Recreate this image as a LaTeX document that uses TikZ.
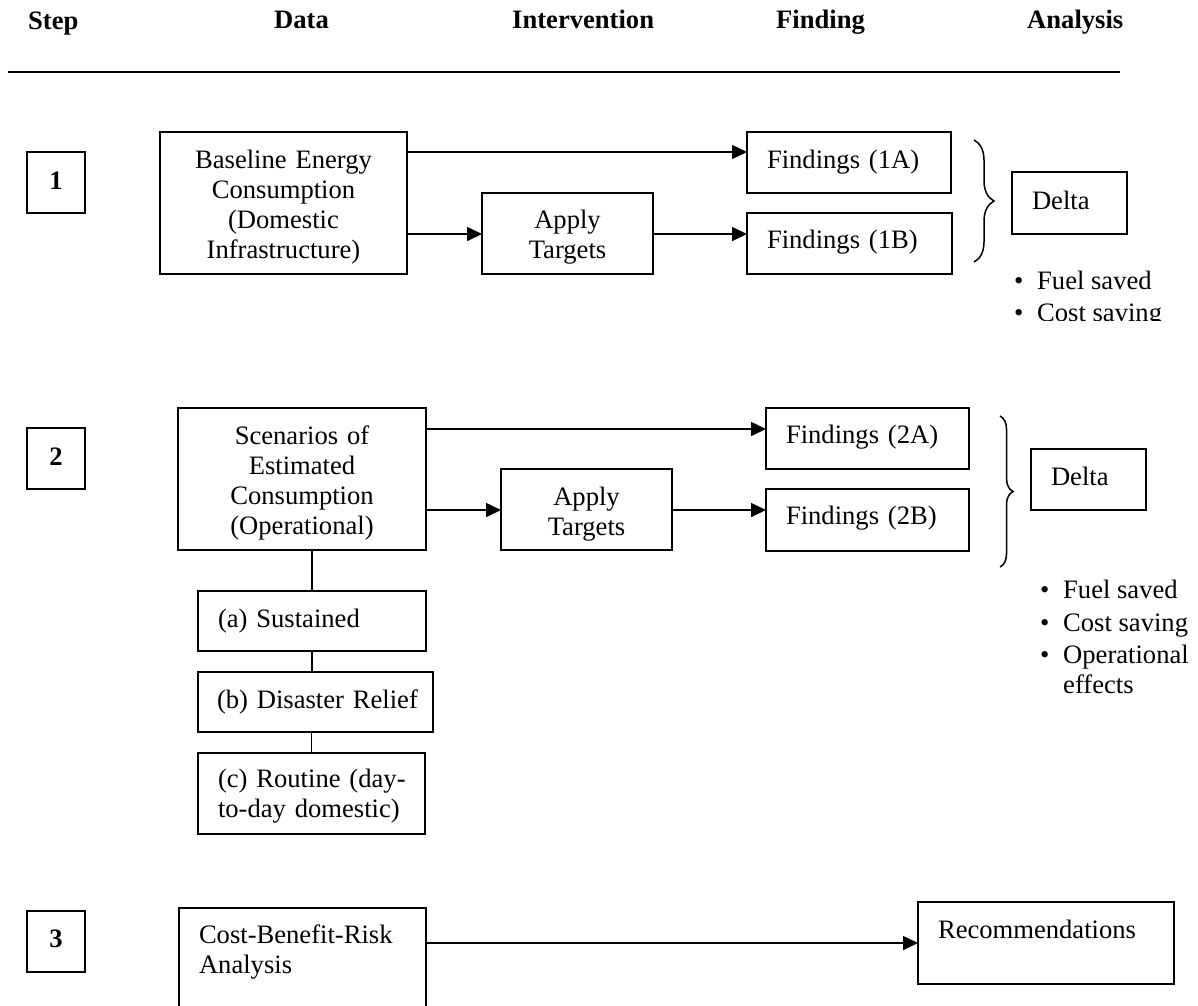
\documentclass[tikz,border=0pt]{standalone}
\usepackage{fontspec}
\setmainfont{Liberation Serif}
\usetikzlibrary{arrows.meta,decorations.pathreplacing}
\newcommand\lpad{\hspace*{20pt}}
\newcommand\bul{\makebox[23pt][l]{\textbullet}}
\begin{document}
\begin{tikzpicture}[x=1pt,y=-1pt,
  every node/.style={font=\fontsize{26.6}{30}\selectfont, text=black},
  bx/.style={draw, line width=1.6pt, anchor=north west, inner sep=0pt, outer sep=0pt},
  cbox/.style n args={3}{bx, align=center, text width=#1pt, text height=#2pt, text depth=#3pt},
  lbox/.style n args={3}{bx, align=left, text width=#1pt, text height=#2pt, text depth=#3pt},
  stepnum/.style={font=\fontsize{26.6}{30}\selectfont\bfseries},
  arr/.style={line width=1.6pt, -{Triangle[length=15pt,width=14pt]}},
  conn/.style={line width=1.6pt},
  brc/.style={decorate, line width=1.5pt, decoration={brace, amplitude=#1pt}},
  hdr/.style={anchor=base west, inner sep=0pt, font=\fontsize{26.6}{30}\selectfont\bfseries},
  bullets/.style={anchor=base west, inner sep=0pt},
]
\useasboundingbox (0,0) rectangle (1198,1005);
\clip (0,0) rectangle (1198,1005);

% header
\node[hdr] (hstep) at (28,29) {Step};
\node[hdr] (hdata) at (274,28) {Data};
\node[hdr] (hint) at (512,28) {Intervention};
\node[hdr] (hfind) at (776,28) {Finding};
\node[hdr] (hana) at (1027,28) {Analysis};
\draw[line width=2pt] (8,72) -- (1120,72);

% step numbers
\node[cbox={58}{37}{24}, stepnum] (s1) at (27,152) {1};
\node[cbox={58}{37}{24}, stepnum] (s2) at (27,428) {2};
\node[cbox={58}{36}{25}, stepnum] (s3) at (27,911) {3};

% step 1
\node[cbox={247}{36}{106}] (bec) at (160,132) {Baseline Energy\\Consumption\\(Domestic\\Infrastructure)};
\node[cbox={171}{35}{46}] (app1) at (482,193) {Apply\\Targets};
\node[lbox={204}{36}{25}] (f1a) at (747,132) {\lpad Findings (1A)};
\node[lbox={205}{35}{26}] (f1b) at (747,213) {\lpad Findings (1B)};
\node[lbox={115}{37}{25}] (d1) at (1012,172) {\lpad Delta};
\draw[arr] (bec.east |- 0,152) -- (f1a.west |- 0,152);
\draw[arr] (bec.east |- 0,234) -- (app1.west |- 0,234);
\draw[arr] (app1.east |- 0,234) -- (f1b.west |- 0,234);
\draw[brc=20] (974,140) -- (974,262);
\begin{scope}
\clip (1000,240) rectangle (1198,320);
\node[bullets] (bul1) at (1014,289) {\begin{tabular}[t]{@{}l@{}}\bul Fuel saved\\[2pt] \bul Cost saving\end{tabular}};
\end{scope}

% step 2
\node[cbox={248}{36}{106}] (scen) at (178,408) {Scenarios of\\Estimated\\Consumption\\(Operational)};
\node[cbox={171}{36}{45}] (app2) at (501,469) {Apply\\Targets};
\node[lbox={203}{35}{26}] (f2a) at (766,408) {\lpad Findings (2A)};
\node[lbox={203}{35}{27}] (f2b) at (766,489) {\lpad Findings (2B)};
\node[lbox={115}{36}{25}] (d2) at (1031,449) {\lpad Delta};
\draw[arr] (scen.east |- 0,429) -- (f2a.west |- 0,429);
\draw[arr] (scen.east |- 0,510) -- (app2.west |- 0,510);
\draw[arr] (app2.east |- 0,510) -- (f2b.west |- 0,510);
\draw[brc=13] (1000,416) -- (1000,567);
\node[bullets] (bul2) at (1040,598) {\begin{tabular}[t]{@{}l@{}}\bul Fuel saved\\[3pt] \bul Cost saving\\[2pt] \bul Operational\\ \makebox[23pt]{}effects\end{tabular}};

\node[lbox={228}{36}{24}] (sa) at (198,591) {\lpad (a) Sustained};
\node[lbox={235}{36}{24}] (sb) at (198,672) {\hspace*{19pt}(b) Disaster Relief};
\node[lbox={227}{34}{47}] (sc) at (198,753) {\lpad (c) Routine (day-\\\lpad to-day domestic)};
\draw[conn] (sa.north |- scen.south) -- (sa.north);
\draw[conn] (sa.south) -- (sa.south |- sb.north);
\draw[conn] (sb.south -| sc.north) -- (sc.north);

% step 3
\node[lbox={247}{35}{107}] (cbr) at (179,908) {\lpad Cost-Benefit-Risk\\\lpad Analysis};
\node[lbox={256}{36}{46}] (rec) at (918,902) {\lpad Recommendations};
\draw[arr] (cbr.east |- 0,943) -- (rec.west |- 0,943);
\end{tikzpicture}
\end{document}
